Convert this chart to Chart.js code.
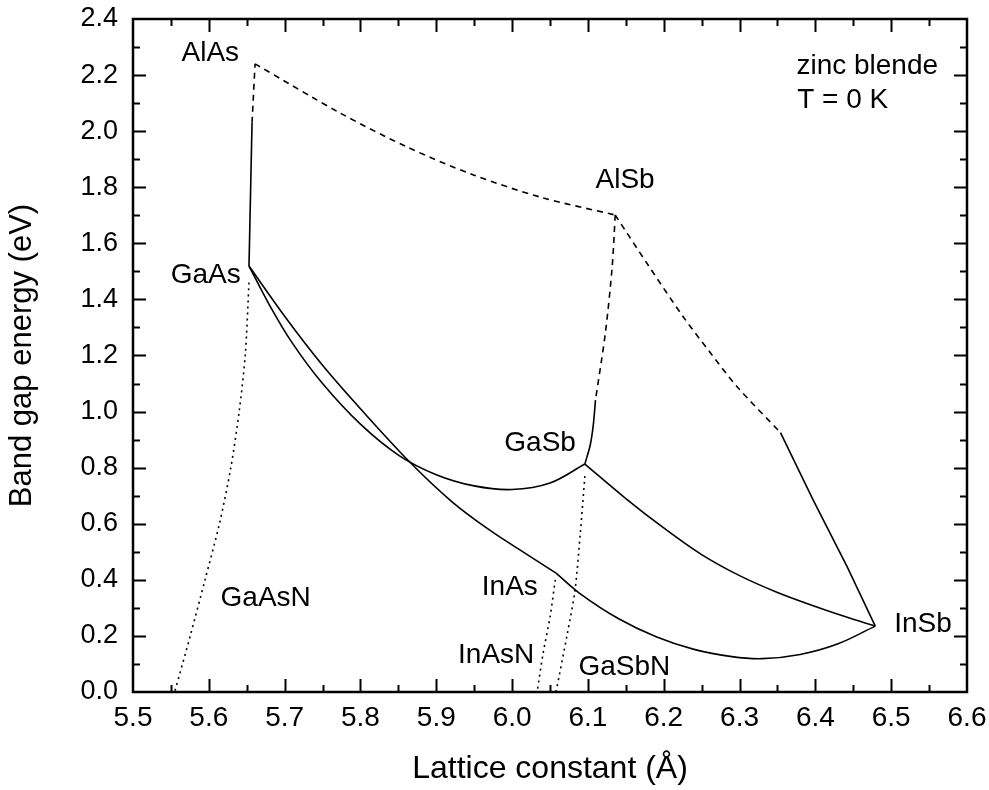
<!DOCTYPE html>
<html>
<head>
<meta charset="utf-8">
<script src="https://cdn.jsdelivr.net/npm/chart.js@4.4.1/dist/chart.umd.min.js"></script>
<style>
  html, body { margin: 0; padding: 0; background: #fff; }
  #wrap { width: 989px; height: 790px; }
</style>
</head>
<body>
<div id="wrap"><canvas id="gap-chart" width="989" height="790"></canvas></div>
<script>
// tick values
const xTickValues = [5.5, 5.6, 5.7, 5.8, 5.9, 6.0, 6.1, 6.2, 6.3, 6.4, 6.5, 6.6];
const yTickValues = [0.0, 0.2, 0.4, 0.6, 0.8, 1.0, 1.2, 1.4, 1.6, 1.8, 2.0, 2.2, 2.4];

// AlGaAs (GaAs -> AlAs), direct part solid, indirect part dashed
const alGaAsSolidX = [5.653, 5.657];
const alGaAsSolidY = [1.519, 2.03];
const alGaAsDashX = [5.657, 5.661];
const alGaAsDashY = [2.03, 2.24];

// AlAsSb (AlAs -> AlSb)
const alAsSbX = [5.661, 5.773, 5.861, 5.949, 6.037, 6.136];
const alAsSbY = [2.24, 2.065, 1.944, 1.844, 1.765, 1.701];

// AlGaSb (AlSb -> GaSb)
const alGaSbDashX = [6.136, 6.132, 6.123, 6.110];
const alGaSbDashY = [1.701, 1.516, 1.280, 1.041];
const alGaSbSolidX = [6.110, 6.107, 6.103, 6.096];
const alGaSbSolidY = [1.041, 0.950, 0.880, 0.813];

// AlInSb (AlSb -> InSb)
const alInSbDashX = [6.136, 6.180, 6.226, 6.260, 6.297, 6.354];
const alInSbDashY = [1.701, 1.520, 1.337, 1.215, 1.088, 0.925];
const alInSbSolidX = [6.354, 6.397, 6.442, 6.479];
const alInSbSolidY = [0.925, 0.685, 0.446, 0.235];

// GaInAs (GaAs -> InAs)
const gaInAsX = [5.653, 5.700, 5.750, 5.800, 5.865, 5.920, 5.970, 6.020, 6.058];
const gaInAsY = [1.519, 1.340, 1.165, 1.010, 0.820, 0.680, 0.578, 0.490, 0.424];

// GaAsSb (GaAs -> GaSb)
const gaAsSbX = [5.653, 5.680, 5.710, 5.750, 5.800, 5.850, 5.900, 5.950, 6.000, 6.050, 6.096];
const gaAsSbY = [1.519, 1.380, 1.245, 1.100, 0.955, 0.845, 0.775, 0.735, 0.722, 0.745, 0.813];

// GaInSb (GaSb -> InSb)
const gaInSbX = [6.096, 6.150, 6.200, 6.250, 6.300, 6.350, 6.400, 6.440, 6.479];
const gaInSbY = [0.813, 0.690, 0.585, 0.490, 0.415, 0.355, 0.305, 0.268, 0.235];

// InAsSb (InAs -> InSb)
const inAsSbX = [6.058, 6.090, 6.140, 6.190, 6.240, 6.290, 6.330, 6.380, 6.430, 6.479];
const inAsSbY = [0.424, 0.350, 0.262, 0.197, 0.152, 0.126, 0.119, 0.134, 0.172, 0.235];

// dilute nitrides
const gaAsNX = [5.653, 5.648, 5.640, 5.629, 5.614, 5.595, 5.5755, 5.555];
const gaAsNY = [1.46, 1.20, 1.00, 0.80, 0.60, 0.40, 0.20, 0.0];
const inAsNX = [6.057, 6.050, 6.041, 6.033];
const inAsNY = [0.40, 0.267, 0.139, 0.0];
const gaSbNX = [6.096, 6.090, 6.083, 6.073, 6.058];
const gaSbNY = [0.77, 0.567, 0.364, 0.210, 0.0];

// text labels
const labelNames = ['AlAs', 'GaAs', 'AlSb', 'GaSb', 'InAs', 'InAsN', 'GaSbN', 'GaAsN', 'InSb'];
const labelX = [5.602, 5.596, 6.149, 6.037, 5.997, 5.979, 6.148, 5.675, 6.542];
const labelY = [2.279, 1.487, 1.826, 0.888, 0.374, 0.132, 0.089, 0.335, 0.243];
const noteLines = ['zinc blende', 'T = 0 K'];
const noteX = [6.375, 6.376];
const noteY = [2.232, 2.111];

const FONT = '"Liberation Sans", Arial, sans-serif';

function pts(xs, ys) {
    return xs.map((x, i) => ({ x: x, y: ys[i] }));
}

function curve(xs, ys, style, tension) {
    let dash = [];
    if (style === 'dash') dash = [6, 5];
    if (style === 'dot') dash = [2, 4];
    return {
        data: pts(xs, ys),
        showLine: true,
        borderColor: '#000',
        borderWidth: 1.6,
        borderDash: dash,
        pointRadius: 0,
        fill: false,
        tension: tension || 0
    };
}

const datasets = [
    curve(alGaAsSolidX, alGaAsSolidY, 'solid'),
    curve(alGaAsDashX, alGaAsDashY, 'dash'),
    curve(alAsSbX, alAsSbY, 'dash', 0.3),
    curve(alGaSbDashX, alGaSbDashY, 'dash', 0.3),
    curve(alGaSbSolidX, alGaSbSolidY, 'solid', 0.3),
    curve(alInSbDashX, alInSbDashY, 'dash', 0.3),
    curve(alInSbSolidX, alInSbSolidY, 'solid'),
    curve(gaInAsX, gaInAsY, 'solid', 0.35),
    curve(gaAsSbX, gaAsSbY, 'solid', 0.35),
    curve(gaInSbX, gaInSbY, 'solid', 0.35),
    curve(inAsSbX, inAsSbY, 'solid', 0.35),
    curve(gaAsNX, gaAsNY, 'dot', 0.3),
    curve(inAsNX, inAsNY, 'dot', 0.3),
    curve(gaSbNX, gaSbNY, 'dot', 0.3)
];

const framePlugin = {
    id: 'frame',
    afterDraw(chart) {
        const ctx = chart.ctx;
        const a = chart.chartArea;
        const x = chart.scales.x;
        const y = chart.scales.y;
        ctx.save();
        ctx.strokeStyle = '#000';
        ctx.lineWidth = 2;
        ctx.beginPath();
        for (let i = 1; i < 22; i++) {
            const px = Math.round(x.getPixelForValue(5.5 + i * 0.05)) + 0.5;
            const len = i % 2 ? 7 : 13;
            ctx.moveTo(px, a.bottom); ctx.lineTo(px, a.bottom - len);
            ctx.moveTo(px, a.top); ctx.lineTo(px, a.top + len);
        }
        for (let i = 1; i < 24; i++) {
            const py = Math.round(y.getPixelForValue(i * 0.1)) + 0.5;
            const len = i % 2 ? 7 : 13;
            ctx.moveTo(a.left, py); ctx.lineTo(a.left + len, py);
            ctx.moveTo(a.right, py); ctx.lineTo(a.right - len, py);
        }
        ctx.stroke();
        ctx.lineWidth = 2.5;
        ctx.strokeRect(a.left, a.top, a.right - a.left, a.bottom - a.top);
        ctx.restore();
    },
    afterDatasetsDraw(chart) {
        const ctx = chart.ctx;
        const x = chart.scales.x;
        const y = chart.scales.y;
        ctx.save();
        ctx.fillStyle = '#000';
        ctx.font = '28px ' + FONT;
        ctx.textBaseline = 'middle';
        ctx.textAlign = 'center';
        labelNames.forEach((t, i) => {
            ctx.fillText(t, x.getPixelForValue(labelX[i]), y.getPixelForValue(labelY[i]));
        });
        ctx.textAlign = 'left';
        noteLines.forEach((t, i) => {
            ctx.fillText(t, x.getPixelForValue(noteX[i]), y.getPixelForValue(noteY[i]));
        });
        ctx.restore();
    }
};

new Chart(document.getElementById('gap-chart'), {
    type: 'scatter',
    data: { datasets: datasets },
    options: {
        responsive: false,
        animation: false,
        layout: { padding: { top: 19, right: 22, left: 0, bottom: 0 } },
        plugins: { legend: { display: false }, tooltip: { enabled: false } },
        scales: {
            x: {
                type: 'linear',
                min: 5.5,
                max: 6.6,
                afterBuildTicks: s => { s.ticks = xTickValues.map(v => ({ value: v })); },
                afterFit: s => { s.height = 98; s.paddingLeft = 0; s.paddingRight = 0; },
                grid: { display: false, drawTicks: false },
                border: { display: false },
                ticks: {
                    padding: 9,
                    color: '#000',
                    font: { family: FONT, size: 28 },
                    maxRotation: 0,
                    autoSkip: false,
                    callback: v => Number(v).toFixed(1)
                },
                title: {
                    display: true,
                    text: 'Lattice constant (Å)',
                    color: '#000',
                    font: { family: FONT, size: 32 },
                    padding: { top: 0, bottom: 2 }
                }
            },
            y: {
                type: 'linear',
                min: 0,
                max: 2.4,
                afterBuildTicks: s => { s.ticks = yTickValues.map(v => ({ value: v })); },
                afterFit: s => { s.width = 133; s.paddingTop = 0; s.paddingBottom = 0; },
                grid: { display: false, drawTicks: false },
                border: { display: false },
                ticks: {
                    padding: 15,
                    color: '#000',
                    font: { family: FONT, size: 27 },
                    autoSkip: false,
                    callback: v => Number(v).toFixed(1)
                },
                title: {
                    display: true,
                    text: 'Band gap energy (eV)',
                    color: '#000',
                    font: { family: FONT, size: 31 },
                    padding: { top: 4, bottom: 0 }
                }
            }
        }
    },
    plugins: [framePlugin]
});
</script>
</body>
</html>
